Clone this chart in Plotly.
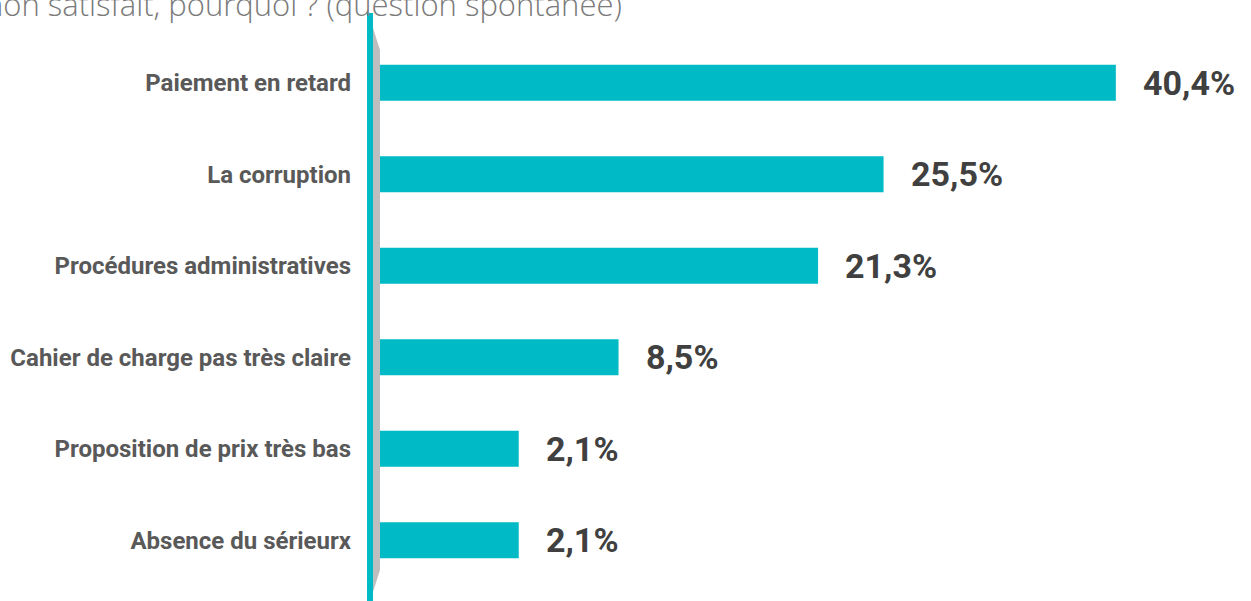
import plotly.graph_objects as go

categories = ["Paiement en retard", "La corruption", "Procédures administratives",
              "Cahier de charge pas très claire", "Proposition de prix très bas",
              "Absence du sérieurx"]
values = [40.4, 25.5, 21.3, 8.5, 2.1, 2.1]
value_labels = ["40,4%", "25,5%", "21,3%", "8,5%", "2,1%", "2,1%"]
title_text = "Si non satisfait, pourquoi ? (question spontanée)"

W, H = 1251, 601
ML, MR, MT, MB = 380, 0, 37, 15
PW, PH = W - ML - MR, H - MT - MB
BASE = -6.8
PX_PER_UNIT = 15.59
XMAX = BASE + PW / PX_PER_UNIT

def px(x):  # pixel -> paper
    return (x - ML) / PW

def py(y):  # pixel -> paper
    return (H - MB - y) / PH

CYAN = "#00BAC6"

fig = go.Figure()
fig.add_trace(go.Bar(
    y=categories,
    x=[v - BASE for v in values],
    base=BASE,
    orientation="h",
    marker=dict(color=CYAN, line=dict(width=0)),
    width=0.394,
    hoverinfo="skip",
))

annotations = []
for c, v, lab in zip(categories, values, value_labels):
    annotations.append(dict(
        x=v, y=c, xref="x", yref="y", text=lab, showarrow=False,
        xanchor="left", yanchor="middle", xshift=25,
        font=dict(family="Roboto", size=34, color="#404040", weight="bold"),
    ))
annotations.append(dict(
    x=px(624), y=py(27.5), xref="paper", yref="paper", text=title_text,
    showarrow=False, xanchor="right", yanchor="bottom",
    font=dict(family="Open Sans", size=31, color="#7a7a7a", weight=300),
))

shapes = [
    dict(type="path", xref="paper", yref="paper",
         path=f"M {px(373)},{py(28)} L {px(380)},{py(50)} L {px(380)},{py(570)} L {px(373)},{py(592)} Z",
         fillcolor="#BDBEC0", line=dict(width=0), layer="above"),
    dict(type="rect", xref="paper", yref="paper",
         x0=px(367), x1=px(373), y0=py(601), y1=py(13),
         fillcolor=CYAN, line=dict(width=0), layer="above"),
]

fig.update_layout(
    width=W, height=H,
    margin=dict(l=ML, r=MR, t=MT, b=MB, pad=0),
    paper_bgcolor="white", plot_bgcolor="white",
    showlegend=False,
    xaxis=dict(range=[BASE, XMAX], visible=False, showgrid=False, zeroline=False),
    yaxis=dict(categoryorder="array", categoryarray=categories, autorange="reversed",
               showgrid=False, zeroline=False, showline=False, ticks="",
               ticklabelstandoff=28,
               tickfont=dict(family="Roboto", size=24, color="#595959", weight="bold")),
    annotations=annotations,
    shapes=shapes,
)

fig.write_html(
    "out.html",
    config={"displayModeBar": False},
    post_script="document.body.style.margin='0';document.body.style.overflow='hidden';",
)
